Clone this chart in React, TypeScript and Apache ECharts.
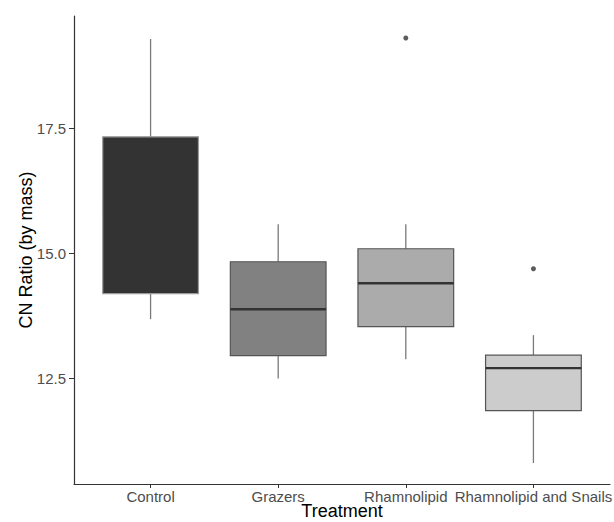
import React, { useEffect, useRef } from "react";
import * as echarts from "echarts";

const categories = ["Control", "Grazers", "Rhamnolipid", "Rhamnolipid and Snails"];
const whiskerLow = [13.68, 12.49, 12.88, 10.8];
const q1 = [14.19, 12.95, 13.53, 11.85];
const medians = [15.9, 13.88, 14.4, 12.7];
const q3 = [17.33, 14.83, 15.09, 12.96];
const whiskerHigh = [19.29, 15.58, 15.58, 13.36];
const fills = ["#333333", "#818181", "#ABABAB", "#CCCCCC"];
const outliers: [number, number][] = [
  [3, 19.31],
  [4, 14.69],
];
const yTicks = [12.5, 15.0, 17.5];
const xTicks = [1, 2, 3, 4];

const FONT = "'Liberation Sans', Arial, sans-serif";

export default function App() {
  const ref = useRef<HTMLDivElement>(null);
  useEffect(() => {
    document.body.style.margin = "0";
    if (!ref.current) return;
    const chart = echarts.init(ref.current, undefined, { renderer: "svg" });
    const boxData = categories.map((_, i) => [
      i + 1,
      whiskerLow[i],
      q1[i],
      medians[i],
      q3[i],
      whiskerHigh[i],
    ]);
    chart.setOption({
      animation: false,
      backgroundColor: "#ffffff",
      grid: {
        left: 74,
        right: 4,
        top: 16,
        bottom: 38,
        containLabel: false,
        outerBoundsMode: "none",
      },
      xAxis: {
        type: "value",
        min: 0.4,
        max: 4.6,
        name: "Treatment",
        nameLocation: "middle",
        nameGap: 18,
        nameMoveOverlap: false,
        nameTextStyle: { fontFamily: FONT, fontSize: 18, color: "#000000" },
        axisLine: { show: true, lineStyle: { color: "#333333", width: 1.2 } },
        axisTick: {
          show: true,
          customValues: xTicks,
          length: 4,
          lineStyle: { color: "#333333", width: 1 },
        },
        axisLabel: {
          customValues: xTicks,
          margin: 5,
          fontFamily: FONT,
          fontSize: 15,
          color: "#4d4d4d",
          formatter: (v: number) => categories[Math.round(v) - 1] ?? "",
        },
        splitLine: { show: false },
      },
      yAxis: {
        type: "value",
        min: 10.38,
        max: 19.75,
        name: "CN Ratio (by mass)",
        nameLocation: "middle",
        nameGap: 39,
        nameMoveOverlap: false,
        nameTextStyle: { fontFamily: FONT, fontSize: 18, color: "#000000" },
        axisLine: { show: true, lineStyle: { color: "#333333", width: 1.2 } },
        axisTick: {
          show: true,
          customValues: yTicks,
          length: 5,
          lineStyle: { color: "#333333", width: 1 },
        },
        axisLabel: {
          customValues: yTicks,
          margin: 8,
          fontFamily: FONT,
          fontSize: 15,
          color: "#4d4d4d",
          formatter: (v: number) => v.toFixed(1),
        },
        splitLine: { show: false },
      },
      series: [
        {
          type: "custom",
          data: boxData,
          encode: { x: 0, y: [1, 2, 3, 4, 5] },
          renderItem: (params: any, api: any) => {
            const i = params.dataIndex;
            const x = api.value(0);
            const pMin = api.coord([x, api.value(1)]);
            const pQ1 = api.coord([x, api.value(2)]);
            const pMed = api.coord([x, api.value(3)]);
            const pQ3 = api.coord([x, api.value(4)]);
            const pMax = api.coord([x, api.value(5)]);
            const w = api.size([0.75, 0])[0];
            const cx = pMed[0];
            const medianLine = {
              type: "line",
              shape: { x1: cx - w / 2, y1: pMed[1], x2: cx + w / 2, y2: pMed[1] },
              style: { stroke: "#333333", lineWidth: 2.4 },
            };
            const box = {
              type: "rect",
              shape: { x: cx - w / 2, y: pQ3[1], width: w, height: pQ1[1] - pQ3[1] },
              style: { fill: fills[i], stroke: i === 0 ? "#9a9a9a" : "#555555", lineWidth: 1.2 },
            };
            return {
              type: "group",
              children: [
                {
                  type: "line",
                  shape: { x1: cx, y1: pQ3[1], x2: cx, y2: pMax[1] },
                  style: { stroke: "#7a7a7a", lineWidth: 1.3 },
                },
                {
                  type: "line",
                  shape: { x1: cx, y1: pMin[1], x2: cx, y2: pQ1[1] },
                  style: { stroke: "#7a7a7a", lineWidth: 1.3 },
                },
                ...(i === 0 ? [medianLine, box] : [box, medianLine]),
              ],
            };
          },
        },
        {
          type: "scatter",
          data: outliers,
          symbol: "circle",
          symbolSize: 5,
          itemStyle: { color: "#333333" },
        },
      ],
    });
    return () => chart.dispose();
  }, []);
  return <div ref={ref} style={{ width: 614, height: 522 }} />;
}
